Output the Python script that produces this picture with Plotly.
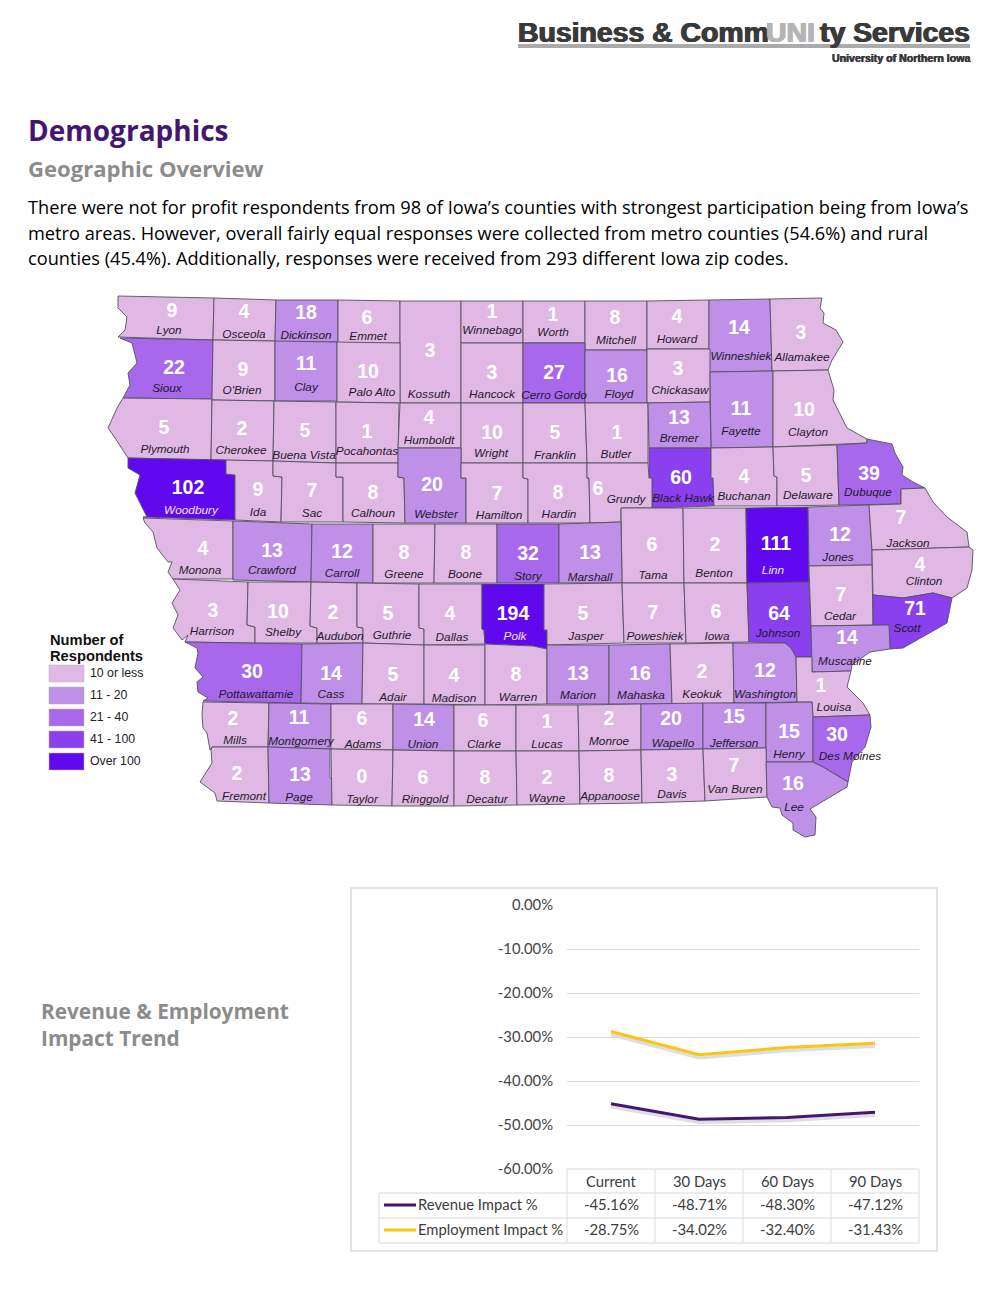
import plotly.graph_objects as go

# respondents by county
COUNTIES = [
    "Lyon", "Osceola", "Dickinson", "Emmet", "Kossuth", "Winnebago", "Worth", "Mitchell", "Howard", "Winneshiek", "Allamakee",
    "Sioux", "O'Brien", "Clay", "Palo Alto", "Hancock", "Cerro Gordo", "Floyd", "Chickasaw", "Fayette", "Clayton",
    "Plymouth", "Cherokee", "Buena Vista", "Pocahontas", "Humboldt", "Wright", "Franklin", "Butler", "Bremer", "Black Hawk", "Buchanan", "Delaware", "Dubuque",
    "Woodbury", "Ida", "Sac", "Calhoun", "Webster", "Hamilton", "Hardin", "Grundy", "Tama", "Benton", "Linn", "Jones", "Jackson", "Clinton",
    "Monona", "Crawford", "Carroll", "Greene", "Boone", "Story", "Marshall",
    "Harrison", "Shelby", "Audubon", "Guthrie", "Dallas", "Polk", "Jasper", "Poweshiek", "Iowa", "Johnson", "Cedar", "Scott", "Muscatine",
    "Pottawattamie", "Cass", "Adair", "Madison", "Warren", "Marion", "Mahaska", "Keokuk", "Washington", "Louisa",
    "Mills", "Montgomery", "Adams", "Union", "Clarke", "Lucas", "Monroe", "Wapello", "Jefferson", "Henry", "Des Moines",
    "Fremont", "Page", "Taylor", "Ringgold", "Decatur", "Wayne", "Appanoose", "Davis", "Van Buren", "Lee",
]
RESPONDENTS = [
    9, 4, 18, 6, 3, 1, 1, 8, 4, 14, 3,
    22, 9, 11, 10, 3, 27, 16, 3, 11, 10,
    5, 2, 5, 1, 4, 10, 5, 1, 13, 60, 4, 5, 39,
    102, 9, 7, 8, 20, 7, 8, 6, 6, 2, 111, 12, 7, 4,
    4, 13, 12, 8, 8, 32, 13,
    3, 10, 2, 5, 4, 194, 5, 7, 6, 64, 7, 71, 14,
    30, 14, 5, 4, 8, 13, 16, 2, 12, 1,
    2, 11, 6, 14, 6, 1, 2, 20, 15, 15, 30,
    2, 13, 0, 6, 8, 2, 8, 3, 7, 16,
]
CLASS_LABELS = ["10 or less", "11 - 20", "21 - 40", "41 - 100", "Over 100"]
CLASS_TOPS = [10, 20, 40, 100, 100000]
CLASS_COLORS = ["#DFB9E3", "#BE90E7", "#A768EC", "#8A40EE", "#6109EE"]

# revenue / employment table
PERIODS = ["Current", "30 Days", "60 Days", "90 Days"]
REVENUE = [-45.16, -48.71, -48.30, -47.12]
EMPLOYMENT = [-28.75, -34.02, -32.40, -31.43]
IMPACT_TICKS = [0, -10, -20, -30, -40, -50, -60]
IMPACT_TICK_LABELS = ["0.00%", "-10.00%", "-20.00%", "-30.00%", "-40.00%", "-50.00%", "-60.00%"]

PURPLE = "#43176F"
GOLD = "#FDC414"
GREY_HEAD = "#8C8C8C"
LOGO_DARK = "#3A3A3A"
LOGO_LIGHT = "#B5B5B5"
MAP_FONT = "Liberation Sans"
BODY_FONT = "Open Sans"
CHART_FONT = "Lato"

# county boundaries, the map's x/y space is the page itself
OUTLINES = {
    "Lyon": [(118,296),(214,298),(213,340),(118,337),(125,330),(127,317),(118,308)],
    "Osceola": [(214,298),(276,300),(275,341),(213,340)],
    "Dickinson": [(276,300),(338,300),(338,342),(275,342)],
    "Emmet": [(338,300),(400,301),(400,343),(338,343)],
    "Kossuth": [(400,301),(461,301),(461,403),(400,403)],
    "Winnebago": [(461,301),(523,301),(523,343),(461,343)],
    "Worth": [(523,301),(585,301),(585,343),(523,343)],
    "Mitchell": [(585,301),(647,301),(647,350),(585,350)],
    "Howard": [(647,301),(709,300),(709,349),(647,349)],
    "Winneshiek": [(709,300),(770,299),(772,371),(709,372)],
    "Allamakee": [(770,299),(822,298),(820,308),(824,313),(823,323),(836,330),(843,342),(832,360),(828,370),(772,371)],
    "Sioux": [(120,338),(213,340),(212,399),(123,398),(130,385),(128,373),(137,363),(132,343)],
    "O'Brien": [(213,340),(275,341),(275,401),(212,400)],
    "Clay": [(275,341),(337,342),(337,401),(275,401)],
    "Palo Alto": [(337,342),(400,343),(400,403),(337,402)],
    "Hancock": [(461,343),(523,343),(523,403),(461,403)],
    "Cerro Gordo": [(523,343),(585,343),(585,403),(523,403)],
    "Floyd": [(585,350),(647,350),(647,403),(585,403)],
    "Chickasaw": [(647,349),(710,349),(710,402),(647,403)],
    "Fayette": [(710,372),(773,371),(773,447),(711,448)],
    "Clayton": [(773,371),(828,370),(834,390),(833,400),(847,428),(867,439),(867,443),(773,447)],
    "Plymouth": [(123,398),(212,399),(211,460),(128,458),(115,438),(108,428),(117,408)],
    "Cherokee": [(212,400),(274,401),(273,461),(211,460)],
    "Buena Vista": [(274,401),(336,402),(336,463),(273,461)],
    "Pocahontas": [(336,402),(399,403),(398,463),(336,463)],
    "Humboldt": [(400,403),(461,403),(461,448),(398,448)],
    "Wright": [(461,403),(523,403),(523,463),(461,463)],
    "Franklin": [(523,403),(585,403),(587,463),(523,463)],
    "Butler": [(585,403),(648,403),(648,463),(587,463)],
    "Bremer": [(648,403),(710,402),(711,448),(649,448)],
    "Black Hawk": [(649,448),(711,448),(711,478),(713,478),(714,506),(652,508),(652,478),(649,478)],
    "Buchanan": [(711,448),(773,447),(774,476),(777,477),(777,506),(714,506),(713,478),(711,478)],
    "Delaware": [(773,447),(837,445),(839,505),(777,506),(777,477),(774,476)],
    "Dubuque": [(837,445),(867,443),(867,439),(892,444),(895,453),(903,467),(902,475),(913,482),(925,488),(901,489),(901,504),(839,505)],
    "Woodbury": [(128,458),(211,460),(226,460),(226,474),(235,475),(235,520),(143,517),(147,517),(135,493),(140,475),(128,468)],
    "Ida": [(226,460),(273,461),(273,476),(282,477),(281,522),(235,520),(235,475),(226,474)],
    "Sac": [(273,461),(336,463),(336,477),(343,477),(343,522),(281,522),(282,477),(273,476)],
    "Calhoun": [(336,463),(398,463),(398,477),(404,478),(405,523),(343,522),(343,477),(336,477)],
    "Webster": [(398,448),(461,448),(461,478),(466,478),(466,523),(405,523),(404,478),(398,477)],
    "Hamilton": [(461,463),(523,463),(523,478),(528,479),(528,523),(466,523),(466,478),(461,478)],
    "Hardin": [(523,463),(587,463),(587,478),(589,478),(590,523),(528,523),(528,479),(523,478)],
    "Grundy": [(587,463),(648,463),(649,478),(652,478),(652,508),(621,508),(621,522),(590,523),(589,478),(587,478)],
    "Tama": [(621,508),(683,508),(684,583),(622,583)],
    "Benton": [(683,508),(746,508),(747,583),(684,583)],
    "Linn": [(746,508),(808,507),(809,582),(747,583)],
    "Jones": [(808,507),(869,505),(872,550),(872,565),(809,566)],
    "Jackson": [(869,505),(901,504),(901,489),(925,488),(933,502),(947,517),(967,532),(969,547),(872,550)],
    "Clinton": [(872,550),(969,547),(973,550),(972,570),(967,588),(952,598),(933,593),(903,598),(873,595)],
    "Monona": [(143,518),(233,521),(233,579),(173,579),(168,572),(172,562),(168,562),(157,548),(153,532),(145,523)],
    "Crawford": [(233,521),(312,524),(311,582),(233,580)],
    "Carroll": [(312,524),(373,524),(373,583),(311,582)],
    "Greene": [(373,524),(435,524),(434,583),(373,583)],
    "Boone": [(435,524),(497,524),(497,583),(434,583)],
    "Story": [(497,524),(559,524),(559,583),(497,583)],
    "Marshall": [(559,524),(590,523),(621,522),(622,583),(559,583)],
    "Harrison": [(173,579),(248,582),(247,625),(255,627),(255,643),(185,642),(188,635),(182,640),(173,628),(178,615),(172,603),(180,590)],
    "Shelby": [(248,582),(311,582),(310,626),(317,628),(317,643),(255,643),(255,627),(247,625)],
    "Audubon": [(311,582),(357,583),(357,627),(363,628),(363,643),(317,643),(317,628),(310,626)],
    "Guthrie": [(357,583),(419,584),(419,628),(424,629),(424,645),(363,643),(363,628),(357,627)],
    "Dallas": [(419,584),(482,584),(482,629),(484,630),(485,644),(424,645),(424,629),(419,628)],
    "Polk": [(482,584),(544,584),(544,630),(547,630),(547,649),(533,646),(485,644),(484,630),(482,629)],
    "Jasper": [(544,584),(622,583),(624,643),(547,645),(547,630),(544,630)],
    "Poweshiek": [(622,583),(684,583),(686,643),(624,643)],
    "Iowa": [(684,583),(747,583),(749,642),(686,643)],
    "Johnson": [(747,583),(809,582),(811,626),(812,657),(796,657),(791,648),(785,643),(749,642)],
    "Cedar": [(809,566),(872,565),(873,625),(811,626)],
    "Scott": [(873,595),(903,598),(933,593),(952,598),(947,623),(923,637),(903,648),(890,649),(889,625),(873,625)],
    "Muscatine": [(811,626),(889,625),(890,649),(870,652),(852,665),(851,671),(812,672)],
    "Pottawattamie": [(185,642),(302,644),(301,703),(203,701),(208,698),(198,692),(197,682),(203,677),(195,668),(198,653),(197,648)],
    "Cass": [(302,644),(363,643),(362,704),(301,703)],
    "Adair": [(363,643),(424,645),(424,704),(362,704)],
    "Madison": [(424,645),(485,645),(485,705),(424,704)],
    "Warren": [(485,644),(533,646),(547,649),(547,704),(485,705)],
    "Marion": [(547,645),(609,645),(609,704),(547,704)],
    "Mahaska": [(609,645),(670,644),(672,704),(609,704)],
    "Keokuk": [(670,644),(733,643),(734,703),(672,704)],
    "Washington": [(733,643),(785,643),(791,648),(796,657),(797,702),(734,703)],
    "Louisa": [(796,657),(812,657),(812,672),(851,671),(847,687),(863,703),(870,715),(813,717),(812,702),(797,702)],
    "Mills": [(203,702),(269,703),(268,747),(212,747),(210,750),(207,733),(203,728),(202,715)],
    "Montgomery": [(269,703),(331,704),(331,749),(268,747)],
    "Adams": [(331,704),(393,704),(393,750),(331,749)],
    "Union": [(393,704),(454,705),(454,751),(393,750)],
    "Clarke": [(454,705),(516,705),(516,751),(454,751)],
    "Lucas": [(516,705),(578,705),(579,751),(516,751)],
    "Monroe": [(578,705),(641,704),(641,750),(579,751)],
    "Wapello": [(641,704),(703,703),(703,749),(641,750)],
    "Jefferson": [(703,703),(766,703),(766,748),(703,749)],
    "Henry": [(766,703),(812,702),(813,717),(813,762),(766,762)],
    "Des Moines": [(813,717),(870,715),(871,727),(865,747),(852,762),(848,782),(840,777),(823,767),(813,762)],
    "Fremont": [(212,747),(268,747),(269,803),(217,801),(215,793),(200,782),(212,763),(211,750)],
    "Page": [(268,747),(330,749),(330,778),(332,779),(332,805),(269,803)],
    "Taylor": [(331,749),(393,750),(392,806),(332,805)],
    "Ringgold": [(393,750),(454,751),(454,806),(392,806)],
    "Decatur": [(454,751),(516,751),(517,805),(454,806)],
    "Wayne": [(516,751),(579,751),(580,804),(517,805)],
    "Appanoose": [(579,751),(641,750),(642,803),(580,804)],
    "Davis": [(641,750),(703,749),(705,801),(642,803)],
    "Van Buren": [(703,749),(766,748),(767,797),(705,801)],
    "Lee": [(766,762),(813,762),(823,767),(840,777),(848,782),(847,787),(810,809),(816,817),(815,835),(805,837),(793,830),(793,823),(782,815),(780,808),(772,807),(767,797)],
}

# where the count and the county name sit: (count x, count y, name x, name y)
LABEL_SPOTS = {
    "Lyon": (172,312,169,331), "Osceola": (244,313,244,335), "Dickinson": (306,314,306,336), "Emmet": (367,319,368,337),
    "Kossuth": (430,352,429,395), "Winnebago": (492,313,492,331), "Worth": (553,316,553,333), "Mitchell": (615,319,616,341),
    "Howard": (677,318,677,340), "Winneshiek": (739,329,741,357), "Allamakee": (801,334,802,358),
    "Sioux": (174,369,167,389), "O'Brien": (243,371,242,391), "Clay": (306,365,306,388), "Palo Alto": (368,373,372,393),
    "Hancock": (492,374,492,395), "Cerro Gordo": (554,374,554,396), "Floyd": (617,377,619,395), "Chickasaw": (678,370,680,391),
    "Fayette": (741,410,741,432), "Clayton": (804,411,808,433),
    "Plymouth": (164,429,165,450), "Cherokee": (242,430,241,451), "Buena Vista": (305,432,304,456), "Pocahontas": (367,433,367,452),
    "Humboldt": (429,419,429,441), "Wright": (492,434,491,454), "Franklin": (555,434,555,456), "Butler": (617,434,616,455),
    "Bremer": (679,419,679,439), "Black Hawk": (681,479,683,499), "Buchanan": (744,478,744,497), "Delaware": (806,477,808,496),
    "Dubuque": (869,475,868,493),
    "Woodbury": (188,489,191,511), "Ida": (258,491,258,513), "Sac": (312,492,312,514), "Calhoun": (373,494,373,514),
    "Webster": (432,486,436,515), "Hamilton": (497,495,499,516), "Hardin": (558,494,559,515), "Grundy": (598,490,626,500),
    "Tama": (652,546,653,576), "Benton": (715,546,714,574), "Linn": (776,545,773,571), "Jones": (840,536,838,558),
    "Jackson": (901,519,908,544), "Clinton": (920,566,924,582),
    "Monona": (203,550,200,571), "Crawford": (272,552,272,571), "Carroll": (342,553,342,574), "Greene": (404,554,404,575),
    "Boone": (466,554,465,575), "Story": (528,555,528,577), "Marshall": (590,554,590,578),
    "Harrison": (213,612,212,632), "Shelby": (278,613,283,633), "Audubon": (333,614,340,637), "Guthrie": (388,615,392,636),
    "Dallas": (450,615,452,638), "Polk": (513,615,515,637), "Jasper": (583,615,586,637), "Poweshiek": (653,614,655,637),
    "Iowa": (716,613,717,637), "Johnson": (779,615,778,634), "Cedar": (841,596,840,617), "Scott": (915,610,907,629),
    "Muscatine": (847,639,845,662),
    "Pottawattamie": (252,673,256,695), "Cass": (331,675,331,695), "Adair": (393,676,393,698), "Madison": (454,677,454,699),
    "Warren": (516,676,518,698), "Marion": (578,675,578,696), "Mahaska": (640,675,641,696), "Keokuk": (702,673,702,695),
    "Washington": (765,672,765,695), "Louisa": (821,687,834,708),
    "Mills": (233,720,235,741), "Montgomery": (299,719,301,742), "Adams": (362,720,363,745), "Union": (424,721,423,745),
    "Clarke": (483,722,484,745), "Lucas": (547,723,547,745), "Monroe": (609,720,609,742), "Wapello": (671,720,673,744),
    "Jefferson": (734,718,734,744), "Henry": (789,733,789,755), "Des Moines": (837,736,850,757),
    "Fremont": (237,775,244,797), "Page": (300,776,299,798), "Taylor": (362,778,362,800), "Ringgold": (423,779,425,800),
    "Decatur": (485,779,487,800), "Wayne": (547,779,547,799), "Appanoose": (609,777,610,797), "Davis": (672,776,672,795),
    "Van Buren": (734,767,735,790), "Lee": (793,785,794,808),
}


def class_of(value):
    for i, top in enumerate(CLASS_TOPS):
        if value <= top:
            return i


def page_text(x, y, text, size, color="#000000", font=BODY_FONT, anchor="left", bold=False, heavy=0):
    # annotations carry a little padding, xshift takes it back
    shadow = f"{heavy}px 0 {color}, -{heavy}px 0 {color}" if heavy else "none"
    return dict(x=x, y=y, xref="x", yref="y", text=text, showarrow=False, xanchor=anchor, yanchor="middle",
                xshift=-2 if anchor == "left" else 2,
                font=dict(family=font, size=size, color=color, weight="bold" if bold else "normal", shadow=shadow))


fig = go.Figure()

# the county map
for county, value in zip(COUNTIES, RESPONDENTS):
    outline = OUTLINES[county]
    fig.add_trace(go.Scatter(
        x=[p[0] for p in outline] + [outline[0][0]],
        y=[p[1] for p in outline] + [outline[0][1]],
        mode="lines", fill="toself", fillcolor=CLASS_COLORS[class_of(value)],
        line=dict(color="#55505F", width=0.9), name=county, hoverinfo="name", showlegend=False,
    ))

fig.add_trace(go.Scatter(
    x=[LABEL_SPOTS[c][0] for c in COUNTIES], y=[LABEL_SPOTS[c][1] for c in COUNTIES],
    mode="text", text=[str(v) for v in RESPONDENTS], showlegend=False, hoverinfo="skip",
    textfont=dict(family=MAP_FONT, size=19.5, color="#FFFFFF", weight="bold"),
))
fig.add_trace(go.Scatter(
    x=[LABEL_SPOTS[c][2] for c in COUNTIES], y=[LABEL_SPOTS[c][3] for c in COUNTIES],
    mode="text", text=COUNTIES, showlegend=False, hoverinfo="skip",
    textfont=dict(family=MAP_FONT, size=11.8, style="italic",
                  color=["#F0E4FF" if v > 100 else "#1F1A2B" for v in RESPONDENTS]),
))

# soft drop shadow under the lines, then the lines
for values in (REVENUE, EMPLOYMENT):
    fig.add_trace(go.Scatter(x=PERIODS, y=values, xaxis="x2", yaxis="y2", mode="lines", showlegend=False,
                             hoverinfo="skip", line=dict(color="rgba(90,90,90,0.2)", width=3.5)))
fig.add_trace(go.Scatter(x=PERIODS, y=REVENUE, xaxis="x2", yaxis="y3", mode="lines", name="Revenue Impact %",
                         showlegend=False, line=dict(color=PURPLE, width=3)))
fig.add_trace(go.Scatter(x=PERIODS, y=EMPLOYMENT, xaxis="x2", yaxis="y3", mode="lines", name="Employment Impact %",
                         showlegend=False, line=dict(color=GOLD, width=3)))

annotations = [
    page_text(28, 130, "Demographics", 28, PURPLE, bold=True),
    page_text(28, 168, "Geographic Overview", 22.1, GREY_HEAD, bold=True),
    page_text(28, 207, "There were not for profit respondents from 98 of Iowa’s counties with strongest participation being from Iowa’s", 18.2),
    page_text(28, 233, "metro areas. However, overall fairly equal responses were collected from metro counties (54.6%) and rural", 18.2),
    page_text(28, 258, "counties (45.4%). Additionally, responses were received from 293 different Iowa zip codes.", 18.2),
    page_text(518, 32, "Business &amp; Comm", 28.4, LOGO_DARK, MAP_FONT, bold=True, heavy=0.7),
    page_text(766, 32, "UNI", 28.4, LOGO_LIGHT, MAP_FONT, bold=True, heavy=0.7),
    page_text(970, 32, "ty Services", 28.4, LOGO_DARK, MAP_FONT, anchor="right", bold=True, heavy=0.7),
    page_text(970, 58, "University of Northern Iowa", 10.6, LOGO_DARK, MAP_FONT, anchor="right", bold=True, heavy=0.3),
    page_text(50, 640, "Number of", 14.7, "#111111", MAP_FONT, bold=True),
    page_text(50, 656, "Respondents", 14.7, "#111111", MAP_FONT, bold=True),
    page_text(41, 1011, "Revenue &amp; Employment", 20.8, GREY_HEAD, bold=True),
    page_text(41, 1038, "Impact Trend", 20.8, GREY_HEAD, bold=True),
]

shapes = [
    dict(type="rect", x0=518, x1=970, y0=44, y1=48, xref="x", yref="y", fillcolor="#ABABAB", line_width=0),
    dict(type="rect", x0=351, x1=937, y0=888, y1=1251, xref="x", yref="y", line=dict(color="#D9D9D9", width=1.5)),
]

# map legend
for i, (label, color) in enumerate(zip(CLASS_LABELS, CLASS_COLORS)):
    top = 665 + i * 22
    shapes.append(dict(type="rect", x0=49, x1=84, y0=top, y1=top + 17, xref="x", yref="y",
                       fillcolor=color, line=dict(color="#BBB0C8", width=0.5)))
    annotations.append(page_text(90, top + 8, label, 12.3, "#222222", MAP_FONT))

# data table under the line chart
table_color = "#D9D9D9"
row_lines = [1169, 1193, 1218, 1243]
col_lines = [567, 655, 743, 831, 919]
for i, y in enumerate(row_lines):
    shapes.append(dict(type="line", x0=567 if i == 0 else 379, x1=919, y0=y, y1=y, xref="x", yref="y",
                       line=dict(color=table_color, width=1)))
for x in col_lines:
    shapes.append(dict(type="line", x0=x, x1=x, y0=1169, y1=1243, xref="x", yref="y",
                       line=dict(color=table_color, width=1)))
shapes.append(dict(type="line", x0=379, x1=379, y0=1193, y1=1243, xref="x", yref="y",
                   line=dict(color=table_color, width=1)))

for period, rev, emp in zip(PERIODS, REVENUE, EMPLOYMENT):
    for y, text in ((1181, period), (1204, f"{rev:.2f}%"), (1229, f"{emp:.2f}%")):
        annotations.append(dict(x=period, y=y, xref="x2", yref="y", text=text, showarrow=False,
                                font=dict(family=CHART_FONT, size=14.8, color="#3C3C3C")))

for y, name, color in ((1205, "Revenue Impact %", PURPLE), (1230, "Employment Impact %", GOLD)):
    shapes.append(dict(type="line", x0=384, x1=416, y0=y, y1=y, xref="x", yref="y", line=dict(color=color, width=3)))
    annotations.append(page_text(418, y - 1, name, 14.8, "#3C3C3C", CHART_FONT))

PAGE_W = 996
PAGE_H = 1295
top_y = 1 - 1169 / PAGE_H
bottom_y = 1 - 905 / PAGE_H
shadow_drop = 3 / PAGE_H

fig.update_layout(
    width=PAGE_W, height=PAGE_H, margin=dict(l=0, r=0, t=0, b=0, pad=0, autoexpand=False),
    paper_bgcolor="#FFFFFF", plot_bgcolor="rgba(0,0,0,0)", showlegend=False,
    xaxis=dict(range=[0, PAGE_W], domain=[0, 1], visible=False, fixedrange=True, automargin=False),
    yaxis=dict(range=[PAGE_H, 0], domain=[0, 1], visible=False, fixedrange=True, automargin=False),
    xaxis2=dict(domain=[567 / PAGE_W, 919 / PAGE_W], anchor="y3", type="category", categoryorder="array",
                categoryarray=PERIODS, range=[-0.5, 3.5], visible=False, fixedrange=True),
    yaxis2=dict(domain=[top_y - shadow_drop, bottom_y - shadow_drop], anchor="x2", range=[-60, 0],
                visible=False, fixedrange=True),
    yaxis3=dict(domain=[top_y, bottom_y], anchor="x2", range=[-60, 0], tickmode="array",
                tickvals=IMPACT_TICKS, ticktext=IMPACT_TICK_LABELS, showgrid=True, gridcolor="#D9D9D9", gridwidth=1,
                zeroline=False, showline=False, ticks="", ticklabelstandoff=13, fixedrange=True,
                tickfont=dict(family=CHART_FONT, size=14.8, color="#444444")),
    annotations=annotations, shapes=shapes,
)

fig.write_html("out.html", config={"displayModeBar": False},
               post_script="document.body.style.margin='0';")
